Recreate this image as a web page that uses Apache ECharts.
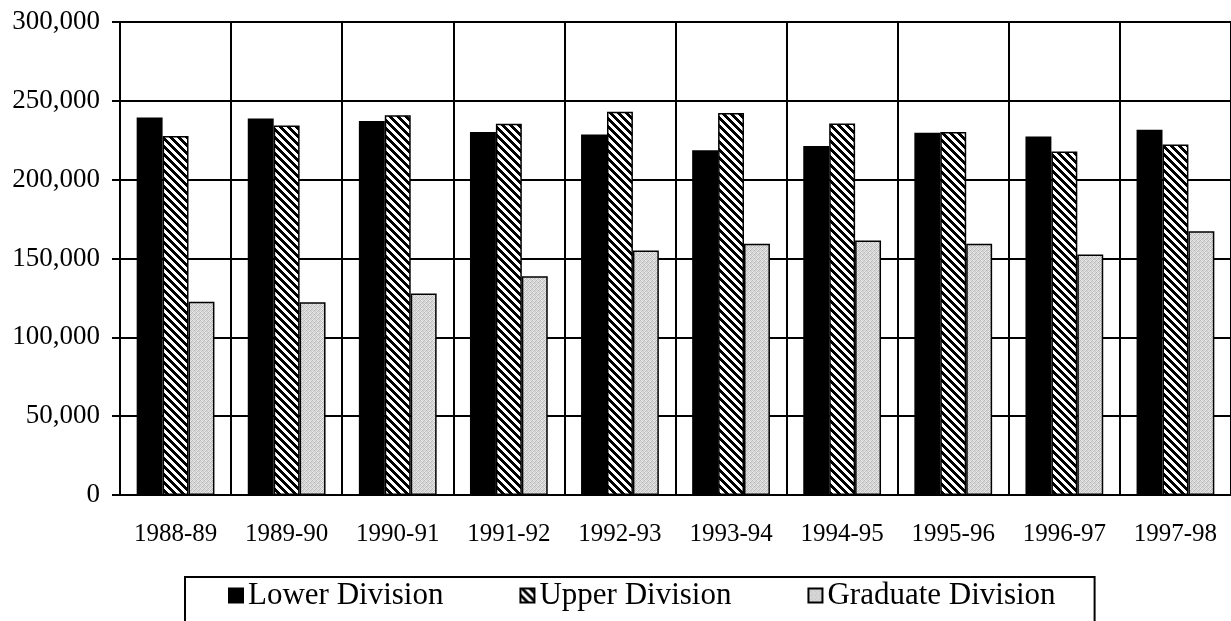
<!DOCTYPE html>
<html>
<head>
<meta charset="utf-8">
<title>Enrollment by Division</title>
<script src="https://cdn.jsdelivr.net/npm/echarts/dist/echarts.min.js"></script>
<style>
  html, body { margin: 0; padding: 0; background: #fff; }
  #chart { width: 1231px; height: 621px; }
</style>
</head>
<body>
<div id="chart"></div>
<script>
// academic years
var years = ['1988-89', '1989-90', '1990-91', '1991-92', '1992-93', '1993-94', '1994-95', '1995-96', '1996-97', '1997-98'];
// values
var lowerDiv = [239500, 238800, 237200, 230300, 228700, 218700, 221300, 229700, 227300, 231700];
var upperDiv = [227700, 234300, 240800, 235400, 243000, 242300, 235700, 230300, 217900, 222300];
var gradDiv = [122500, 122300, 127800, 138800, 155000, 159300, 161400, 159300, 152500, 167300];
var yTicks = [0, 50000, 100000, 150000, 200000, 250000, 300000];

var serif = 'Liberation Serif, Times New Roman, serif';

// diagonal hatch tile for upper division
function hatchTile() {
  var p = 8, c = document.createElement('canvas');
  c.width = p; c.height = p;
  var ctx = c.getContext('2d');
  var img = ctx.createImageData(p, p);
  for (var y = 0; y < p; y++) {
    for (var x = 0; x < p; x++) {
      var k = ((x - y) % p + p) % p;
      var v = k < 4 ? 0 : 255;
      var i = (y * p + x) * 4;
      img.data[i] = v; img.data[i + 1] = v; img.data[i + 2] = v; img.data[i + 3] = 255;
    }
  }
  ctx.putImageData(img, 0, 0);
  return c;
}

// speckled light gray tile for graduate division
function speckleTile() {
  var shades = [
    0xb8, 0xea, 0xd0, 0xe0,
    0xdc, 0xc8, 0xf0, 0xbc,
    0xce, 0xe6, 0xb4, 0xd8,
    0xec, 0xc0, 0xda, 0xca
  ];
  var c = document.createElement('canvas');
  c.width = 4; c.height = 4;
  var ctx = c.getContext('2d');
  var img = ctx.createImageData(4, 4);
  for (var n = 0; n < 16; n++) {
    img.data[n * 4] = shades[n];
    img.data[n * 4 + 1] = shades[n];
    img.data[n * 4 + 2] = shades[n];
    img.data[n * 4 + 3] = 255;
  }
  ctx.putImageData(img, 0, 0);
  return c;
}

var chart = echarts.init(document.getElementById('chart'), null, { renderer: 'canvas' });

var barBorder = { borderColor: '#000', borderWidth: 1.5 };

chart.setOption({
  animation: false,
  backgroundColor: '#fff',
  grid: { left: 120, right: 0, top: 22, bottom: 126, containLabel: false },
  legend: {
    data: ['Lower Division', 'Upper Division', 'Graduate Division'],
    left: 185,
    top: 577,
    icon: 'rect',
    itemWidth: 14,
    itemHeight: 14,
    itemGap: 76,
    padding: [3, 39, 11, 43],
    borderColor: '#000',
    borderWidth: 2,
    borderRadius: 0,
    textStyle: { fontFamily: serif, fontSize: 31, color: '#000' }
  },
  xAxis: {
    type: 'category',
    data: years,
    axisLine: { lineStyle: { color: '#000', width: 2 } },
    axisTick: { show: false },
    axisLabel: { fontFamily: serif, fontSize: 25, color: '#000', margin: 27, interval: 0 },
    splitLine: { show: true, interval: 0, lineStyle: { color: '#000', width: 2 } }
  },
  yAxis: {
    type: 'value',
    min: yTicks[0],
    max: yTicks[yTicks.length - 1],
    interval: yTicks[1] - yTicks[0],
    axisLine: { show: true, lineStyle: { color: '#000', width: 2 } },
    axisTick: { show: true, length: 8, lineStyle: { color: '#000', width: 2 } },
    axisLabel: {
      fontFamily: serif, fontSize: 27, color: '#000', margin: 20,
      formatter: function (v) { return v.toLocaleString('en-US'); }
    },
    splitLine: { show: true, lineStyle: { color: '#000', width: 2 } }
  },
  series: [
    {
      name: 'Lower Division', type: 'bar', data: lowerDiv,
      barGap: '0%', barCategoryGap: '30%',
      itemStyle: Object.assign({ color: '#000' }, barBorder)
    },
    {
      name: 'Upper Division', type: 'bar', data: upperDiv,
      barGap: '0%', barCategoryGap: '30%',
      itemStyle: Object.assign({ color: { image: hatchTile(), repeat: 'repeat' } }, barBorder)
    },
    {
      name: 'Graduate Division', type: 'bar', data: gradDiv,
      barGap: '0%', barCategoryGap: '30%',
      itemStyle: Object.assign({ color: { image: speckleTile(), repeat: 'repeat' } }, barBorder)
    }
  ]
});
</script>
</body>
</html>
